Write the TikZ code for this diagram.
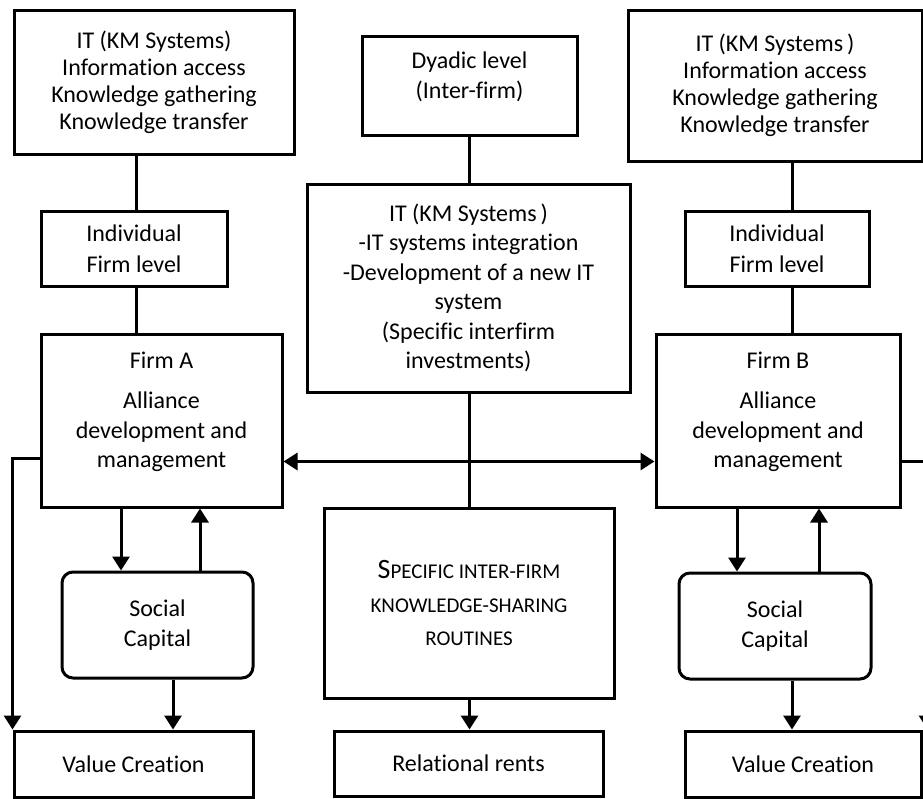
\documentclass[tikz,border=0pt]{standalone}
\usepackage{fontspec}
\setmainfont[Ligatures=NoCommon]{Carlito}
\usetikzlibrary{arrows.meta}
\begin{document}
\begin{tikzpicture}[x=1pt,y=-1pt,
  box/.style={draw, line width=3pt, align=center, inner sep=0pt,
    font=\fontsize{24}{27}\selectfont},
  txt/.style={align=center, inner sep=0pt, font=\fontsize{24}{29.5}\selectfont},
  soc/.style={box, rounded corners=11pt, font=\fontsize{24}{30}\selectfont},
  conn/.style={line width=3pt},
  arr/.style={conn, -{Triangle[length=14pt,width=17pt]}},
  darr/.style={conn, {Triangle[length=14pt,width=17pt]}-{Triangle[length=14pt,width=17pt]}}]
\useasboundingbox (0,0) rectangle (923,798);
\clip (0,0) rectangle (923,798);
\fill[white] (0,0) rectangle (923,798);

% left column
\node[box, minimum width=280pt, minimum height=144pt] (topA) at (154,82)
  {IT (KM Systems)\\Information access\\Knowledge gathering\\Knowledge transfer};
\node[box, minimum width=186pt, minimum height=75pt, font=\fontsize{24}{31}\selectfont] (indA) at (134,248.5)
  {Individual\\Firm level};
\node[box, minimum width=241pt, minimum height=173pt] (firmA) at (161.5,420.5) {};
\node[txt] (firmAt) at (161.5,412) {Firm A\\[11pt]Alliance\\development and\\management};
\node[soc, minimum width=191pt, minimum height=106pt] (socA) at (157.5,625) {Social\\Capital};
\node[box, minimum width=239pt, minimum height=66pt] (vcA) at (133.5,764) {Value Creation};

% centre column
\node[box, minimum width=215pt, minimum height=99pt] (dy) at (469.5,85.5) {};
\node[txt] (dyt) at (469.5,77) {Dyadic level\\(Inter-firm)};
\node[box, minimum width=323pt, minimum height=208pt, font=\fontsize{24}{29.5}\selectfont] (itC) at (468.5,288)
  {IT (KM Systems\,)\\-IT systems integration\\-Development of a new IT\\system\\(Specific interfirm\\investments)};
\node[box, minimum width=290pt, minimum height=190pt, font=\fontsize{21}{33.5}\selectfont] (spec) at (469,603)
  {{\fontsize{28}{33.5}\selectfont S}PECIFIC INTER-FIRM\\KNOWLEDGE-SHARING\\ROUTINES};
\node[box, minimum width=269pt, minimum height=65pt] (rr) at (468.5,763.5) {Relational rents};

% right column
\node[box, minimum width=294pt, minimum height=151pt] (topB) at (775,85.5)
  {IT (KM Systems\,)\\Information access\\Knowledge gathering\\Knowledge transfer};
\node[box, minimum width=184pt, minimum height=75pt, font=\fontsize{24}{31}\selectfont] (indB) at (777,248.5)
  {Individual\\Firm level};
\node[box, minimum width=244pt, minimum height=173pt] (firmB) at (778,420.5) {};
\node[txt] (firmBt) at (778,412) {Firm B\\[11pt]Alliance\\development and\\management};
\node[soc, minimum width=192pt, minimum height=106pt] (socB) at (775,626) {Social\\Capital};
\node[box, minimum width=236pt, minimum height=66pt] (vcB) at (803,764) {Value Creation};

% left connectors
\draw[conn] ([xshift=2pt]indA.north) -- ([xshift=2pt]indA.north |- topA.south);
\draw[conn] ([xshift=2pt]indA.south) -- ([xshift=2pt]indA.south |- firmA.north);
\draw[arr] ([xshift=-36.5pt]socA.north |- firmA.south) -- ([xshift=-36.5pt]socA.north);
\draw[arr] ([xshift=42.5pt]socA.north) -- ([xshift=42.5pt]socA.north |- firmA.south);
\draw[arr] ([xshift=15.5pt]socA.south) -- ([xshift=15.5pt]socA.south |- vcA.north);
\draw[arr] (firmA.south west) ++(0,-50) -| (vcA.north west);

% centre connectors
\draw[conn] (dy.south) -- (dy.south |- itC.north);
\draw[conn] (itC.south -| dy.south) -- (spec.north -| dy.south);
\draw[arr] (spec.south -| dy.south) -- (rr.north -| dy.south);
\draw[darr] ([yshift=47pt]firmA.south east) -- ([yshift=47pt]firmB.south west);

% right connectors
\draw[conn] ([xshift=15pt]indB.north) -- ([xshift=15pt]indB.north |- topB.south);
\draw[conn] ([xshift=15pt]indB.south) -- ([xshift=15pt]indB.south |- firmB.north);
\draw[arr] ([xshift=-38pt]socB.north |- firmB.south) -- ([xshift=-38pt]socB.north);
\draw[arr] ([xshift=44pt]socB.north) -- ([xshift=44pt]socB.north |- firmB.south);
\draw[arr] ([xshift=17pt]socB.south) -- ([xshift=17pt]socB.south |- vcB.north);
\draw[arr] (firmB.south east) ++(0,-47) -| ([xshift=5pt]vcB.north east);
\end{tikzpicture}
\end{document}
